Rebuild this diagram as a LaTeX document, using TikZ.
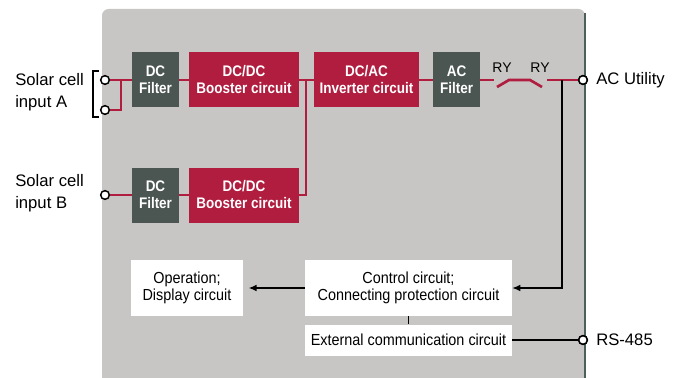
\documentclass[tikz,border=0pt]{standalone}
\usepackage{fontspec}
\setmainfont{Liberation Sans}
\newfontfamily\condfont[FakeStretch=0.88]{Liberation Sans}
\newfontfamily\narrowfont[FakeStretch=0.9]{Liberation Sans}
\usetikzlibrary{arrows.meta}
\definecolor{panel}{HTML}{C8C6C4}
\definecolor{edge}{HTML}{4E5E5C}
\definecolor{filtgray}{HTML}{4B5552}
\definecolor{boostred}{HTML}{B01D3F}
\begin{document}
\begin{tikzpicture}[x=0.75pt,y=-0.75pt,
  filt/.style = {fill=filtgray, text=white, minimum width=35.25pt, minimum height=41.25pt, inner sep=0pt, align=center, font=\condfont\bfseries\fontsize{11.5}{12.75}\selectfont},
  boost/.style = {filt, fill=boostred, minimum width=82.5pt},
  wbox/.style = {fill=white, minimum height=42pt, inner sep=0pt, align=center, font=\narrowfont\fontsize{12}{12.75}\selectfont},
  term/.style = {draw, circle, fill=white, line width=1.1pt, minimum size=6.5pt, inner sep=0pt},
  lbl/.style = {anchor=west, inner sep=0pt, align=left, font=\fontsize{12.5}{16.5}\selectfont},
  rline/.style = {draw=boostred, line width=2pt},
  bline/.style = {line width=1pt}]
\useasboundingbox (0,0) rectangle (686,378);
% panel
\fill[panel, rounded corners=5] (102,378) -- (102,9) -- (585,9) -- (585,378);
\draw[edge, line width=1.5pt] (585,13) -- (585,378);

% blocks
\node[filt] (fa) at (155.5,80) {DC\\Filter};
\node[boost] (ba) at (244,80) {DC/DC\\Booster circuit};
\node[boost, minimum width=78.75pt] (inv) at (366.5,80) {DC/AC\\Inverter circuit};
\node[filt] (acf) at (456.5,80) {AC\\Filter};
\node[filt] (fb) at (155.5,195) {DC\\Filter};
\node[boost] (bb) at (244,195) {DC/DC\\Booster circuit};
\node[wbox, minimum width=155.25pt] (ctl) at (408.5,288) {Control circuit;\\Connecting protection circuit};
\node[wbox, minimum width=155.25pt, minimum height=23.25pt] (ext) at (408.5,340) {External communication circuit};
\node[wbox, minimum width=84pt] (op) at (187,288) {Operation;\\Display circuit};

% terminals
\node[term] (ta1) at (105,80) {};
\node[term] (ta2) at (105,110) {};
\node[term] (tb) at (105,195) {};
\node[term] (tac) at (583,80) {};
\node[term] (trs) at (583,340) {};
\coordinate (ja) at (121,80);
\coordinate (jb) at (306,80);
\coordinate (r1) at (494,80);
\coordinate (r2) at (547,80);
\coordinate (jc) at (562,80);

% power path
\draw[rline] (ta1) -- (fa);
\draw[rline] (ta2) -| (ja);
\draw[rline] (fa) -- (ba);
\draw[rline] (ba) -- (inv);
\draw[rline] (inv) -- (acf);
\draw[rline] (tb) -- (fb);
\draw[rline] (fb) -- (bb);
\draw[rline] (bb.east |- 0,195) -| (jb);
\draw[rline] (acf) -- (r1);
\draw[rline] (497,87) -- (509,80) -- (530,80) -- (542,87);
\draw[rline] (r2) -- (tac);
\node[font=\fontsize{10.5}{12}\selectfont, inner sep=0pt] (ry1) at (502,68) {RY};
\node[font=\fontsize{10.5}{12}\selectfont, inner sep=0pt] (ry2) at (540,68) {RY};

% control
\draw[bline, -{Latex[length=6pt,width=5pt]}] (jc) |- (ctl.east);
\draw[bline, -{Latex[length=6pt,width=5pt]}, shorten >=4pt] (ctl) -- (op);
\draw[bline] (ctl) -- (ext);
\draw[bline] (ext) -- (trs);
\node[term] at (tac) {};
\node[term] at (trs) {};

% labels
\draw[line width=0.8pt] (99,71) -- (93,71) -- (93,117) -- (99,117);
\node[lbl] (la) at (15,92) {Solar cell\\input A};
\node[lbl] (lb) at (15,193.5) {Solar cell\\input B};
\node[lbl] (lac) at (596,80) {AC Utility};
\node[lbl] (lrs) at (596,340) {RS-485};
\end{tikzpicture}
\end{document}
